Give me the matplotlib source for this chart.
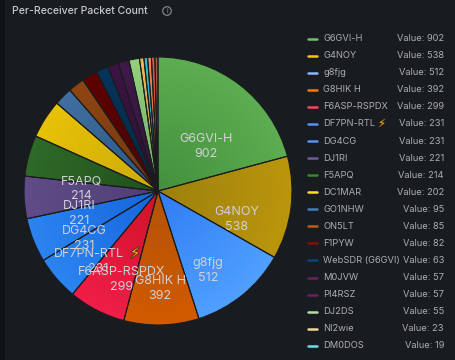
import numpy as np
from matplotlib import pyplot as plt
from matplotlib import patheffects as pe
from matplotlib.colors import to_rgb
from matplotlib.patches import Wedge, Circle, Rectangle

# receivers, largest first. the last three are not in the legend, values guessed from slice width
names = ["G6GVI-H", "G4NOY", "g8fjg", "G8HIK H", "F6ASP-RSPDX", "DF7PN-RTL", "DG4CG", "DJ1RI", "F5APQ", "DC1MAR",
         "GO1NHW", "ON5LT", "F1PYW", "WebSDR (G6GVI)", "M0JVW", "PI4RSZ", "DJ2DS", "NI2wie", "DM0DOS", "", "", ""]
values = [902, 538, 512, 392, 299, 231, 231, 221, 214, 202, 95, 85, 82, 63, 57, 57, 55, 23, 19, 20, 18, 16]
# legend swatches
colors = ["#73bf69", "#f2cc0c", "#8ab8ff", "#ff780a", "#f2495c", "#5794f2", "#5794f2", "#6f5aa0", "#37872d", "#fade2a",
          "#447ebc", "#c15c17", "#890f02", "#0a437c", "#6d1f62", "#6d1f62", "#b7dbab", "#f4d598", "#70dbed", "#f9ba8f", "#e24d42", "#b7724f"]
# slice fill at the rim and at the hub, the pie is darker than the legend
rim = ["#5cae50", "#bb960c", "#4fa0ff", "#d25a00", "#f01e48", "#2b84f0", "#2b84f0", "#5f4c88", "#2f6a28", "#e8c206",
       "#3f709f", "#8f4512", "#5e0202", "#06345a", "#3c1442", "#3f1a48", "#95cf80", "#f2b65c", "#2cc0e0", "#ec8a50", "#e05555", "#a86040"]
hub = ["#438f3e", "#9c800e", "#2f7cf4", "#b25307", "#d01228", "#1565dc", "#1565dc", "#503f76", "#20501c", "#cbaa0c",
       "#2a5785", "#743810", "#4c0101", "#042946", "#301036", "#33163c", "#74ae64", "#c69344", "#2096b0", "#be6e3e", "#ae4040", "#824c32"]
BG = "#181b1f"
LABEL = "#d0d1d5"
LEGEND = "#acadb0"

fig = plt.figure(figsize=(4.55, 3.6), dpi=100, facecolor=BG)
plt.rcParams['font.family'] = ['Inter', 'DejaVu Sans']
ax = fig.add_axes([0, 0, 1, 1])
ax.set_xlim(0, 455)
ax.set_ylim(360, 0)
ax.axis("off")
ax.add_patch(Rectangle((0, 0), 4.5, 360, facecolor="#111217", edgecolor="none"))

cx, cy, r = 158, 191, 134
total = sum(values)
yy, xx = np.mgrid[cy - r:cy + r:400j, cx - r:cx + r:400j]
dist = np.clip(np.hypot(xx - cx, yy - cy) / r, 0, 1)[..., None]


def bolt(x, y, size):
    ax.text(x, y, "\u26a1", color="#f5b21e", fontsize=size, ha="center", va="center", zorder=6, family="DejaVu Sans",
            path_effects=[pe.withStroke(linewidth=1, foreground="#3a2a10")])


angle = 0.0
for i in range(len(values)):
    sweep = values[i] / total * 360
    # y axis is flipped so matplotlib angles run clockwise on screen, 0 is east
    t1 = angle - 90
    t2 = t1 + sweep
    img = np.array(to_rgb(hub[i])) * (1 - dist) + np.array(to_rgb(rim[i])) * dist
    w = Wedge((cx, cy), r, t1, t2, facecolor="none", edgecolor="none")
    ax.add_patch(w)
    im = ax.imshow(img, extent=(cx - r, cx + r, cy + r, cy - r), zorder=2, interpolation="bilinear", aspect="auto")
    im.set_clip_path(w)
    ax.add_patch(Wedge((cx, cy), r, t1, t2, facecolor="none", edgecolor="#1a1c1e", linewidth=0.8, zorder=3))
    # labels only on the big slices, they sit a bit lower than the slice middle
    if i < 9:
        mid = np.radians((t1 + t2) / 2)
        lx = cx + 79 * np.cos(mid)
        ly = cy + 18.5 + 79 * np.sin(mid)
        if names[i] == "DF7PN-RTL":
            ax.text(lx - 9, ly - 7.5, names[i], color=LABEL, fontsize=9, ha="center", va="center", zorder=5)
            bolt(lx + 37, ly - 7.5, 11)
        else:
            ax.text(lx, ly - 7.5, names[i], color=LABEL, fontsize=9, ha="center", va="center", zorder=5)
        ax.text(lx, ly + 7.5, str(values[i]), color=LABEL, fontsize=9, ha="center", va="center", zorder=5)
    angle += sweep
ax.set_xlim(0, 455)
ax.set_ylim(360, 0)

ax.text(12, 11.5, "Per-Receiver Packet Count", color="#c7c8ca", fontsize=7.55, fontweight="medium", va="center")
ax.add_patch(Circle((167, 11), 4.3, facecolor="none", edgecolor="#8e8f92", linewidth=0.8))
ax.text(167, 11, "i", color="#8e8f92", fontsize=5, ha="center", va="center")

# legend, only the ones that fit in the panel
for i in range(19):
    y = 38.7 + i * 17.06
    ax.plot([307.5, 316.5], [y, y], color=colors[i], linewidth=1.8, solid_capstyle="round")
    ax.text(323, y, names[i], color=LEGEND, fontsize=6.7, va="center")
    if names[i] == "DF7PN-RTL":
        bolt(382, y, 8)
    ax.text(444, y, "Value: " + str(values[i]), color=LEGEND, fontsize=6.7, va="center", ha="right")

fig.savefig("out.png", dpi=100, facecolor=BG)
